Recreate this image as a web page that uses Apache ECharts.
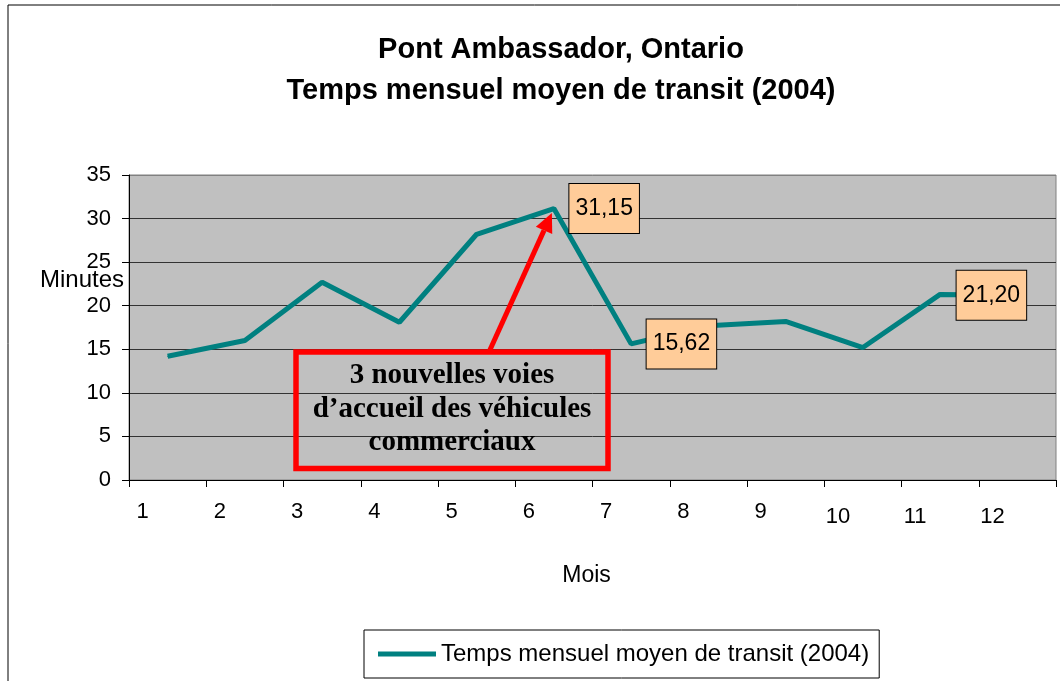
<!DOCTYPE html>
<html>
<head>
<meta charset="utf-8">
<script src="https://cdn.jsdelivr.net/npm/echarts@6/dist/echarts.min.js"></script>
<style>html,body{margin:0;padding:0;background:#fff;}#c{width:1060px;height:681px;}</style>
</head>
<body>
<div id="c"></div>
<script>
const months = ['1','2','3','4','5','6','7','8','9','10','11','12'];
const transitMinutes = [14.2, 16.0, 22.7, 18.1, 28.2, 31.15, 15.62, 17.7, 18.2, 15.2, 21.3, 21.20];
const labelledMonths = [5, 6, 11];
const yTicks = [0, 5, 10, 15, 20, 25, 30, 35];
const seriesName = 'Temps mensuel moyen de transit (2004)';
const titleLines = ['Pont Ambassador, Ontario', 'Temps mensuel moyen de transit (2004)'];
const noteLines = ['3 nouvelles voies', 'd’accueil des véhicules', 'commerciaux'];

const FONT = 'Arial, "Liberation Sans", sans-serif';
const chart = echarts.init(document.getElementById('c'));

const labelBase = {
  show: true,
  formatter: p => p.value.toFixed(2).replace('.', ','),
  backgroundColor: '#FFCC99',
  borderColor: '#000',
  borderWidth: 1,
  padding: [13, 6],
  fontSize: 23,
  fontFamily: FONT,
  color: '#000'
};
const seriesData = transitMinutes.map((v, i) => {
  if (!labelledMonths.includes(i)) return v;
  const lab = Object.assign({}, labelBase);
  if (i === 11) { lab.position = 'inside'; lab.offset = [-26, 0]; }
  else { lab.position = 'right'; lab.distance = 15; }
  return { value: v, label: lab };
});

chart.setOption({
  animation: false,
  backgroundColor: '#fff',
  title: {
    text: titleLines.join('\n'),
    left: 556, top: 24, textAlign: 'center',
    textStyle: { fontFamily: FONT, fontWeight: 'bold', fontSize: 29, lineHeight: 41, color: '#000' }
  },
  grid: {
    left: 129, right: 4, top: 175, bottom: 201,
    show: true, backgroundColor: '#C0C0C0', borderColor: '#808080', borderWidth: 1
  },
  legend: {
    data: [seriesName],
    left: 364, top: 630,
    borderColor: '#000', borderWidth: 1,
    padding: [12, 10, 12, 14],
    icon: 'rect', itemWidth: 58, itemHeight: 5, itemGap: 6,
    textStyle: { fontFamily: FONT, fontSize: 24, color: '#000' }
  },
  xAxis: {
    type: 'category',
    data: months,
    boundaryGap: true,
    name: 'Mois', nameLocation: 'middle', nameGap: 84,
    nameTextStyle: { fontFamily: FONT, fontSize: 23, color: '#000', padding: [0, 12, 0, 0] },
    axisLine: { lineStyle: { color: '#000', width: 1 } },
    axisTick: { show: true, length: 7, interval: 0, alignWithLabel: false, lineStyle: { color: '#000' } },
    axisLabel: {
      interval: 0,
      margin: 21, fontFamily: FONT, fontSize: 22, color: '#000',
      padding: [0, 50, 0, 0],
      formatter: v => (Number(v) >= 10 ? '{low|' + v + '}' : v),
      rich: { low: { padding: [5, 0, 0, 0], fontFamily: FONT, fontSize: 22, color: '#000' } }
    },
    splitLine: { show: false }
  },
  yAxis: {
    type: 'value',
    min: yTicks[0], max: yTicks[yTicks.length - 1], interval: yTicks[1] - yTicks[0],
    axisLine: { show: true, lineStyle: { color: '#000', width: 1 } },
    axisTick: { show: true, length: 7, lineStyle: { color: '#000' } },
    axisLabel: { margin: 18, fontFamily: FONT, fontSize: 22, color: '#000' },
    splitLine: { show: true, lineStyle: { color: ['#000','#333','#333','#333','#333','#333','#333','#808080'], width: 1 } }
  },
  series: [{
    name: seriesName,
    type: 'line',
    data: seriesData,
    symbol: 'circle', symbolSize: 1,
    itemStyle: { color: '#008080' },
    lineStyle: { color: '#008080', width: 5 },
    label: { show: false },
    z: 3
  }]
});

// Annotations (arrow tip anchored to the peak via the axis scale)
const peakIdx = transitMinutes.indexOf(Math.max(...transitMinutes));
const peak = chart.convertToPixel({ gridIndex: 0 }, [peakIdx, transitMinutes[peakIdx]]);
const tip = [peak[0] - 2, peak[1] + 4.5];
const tail = [489, 352];
const dx = tip[0] - tail[0], dy = tip[1] - tail[1];
const len = Math.sqrt(dx * dx + dy * dy);
const ux = dx / len, uy = dy / len;
const headL = 19, headW = 9;
const bc = [tip[0] - ux * headL, tip[1] - uy * headL];
const px = -uy, py = ux;

chart.setOption({
  graphic: [
    { type: 'rect', z: 0, silent: true, shape: { x: 8, y: 5, width: 1200, height: 800 },
      style: { fill: 'none', stroke: '#000', lineWidth: 1 } },
    { type: 'text', left: 40, top: 268, z: 10,
      style: { text: 'Minutes', fontFamily: FONT, fontSize: 24, fill: '#000' } },
    { type: 'line', z: 20, shape: { x1: tail[0], y1: tail[1], x2: bc[0], y2: bc[1] },
      style: { stroke: '#FF0000', lineWidth: 5 } },
    { type: 'polygon', z: 20,
      shape: { points: [tip, [bc[0] + px * headW, bc[1] + py * headW], [bc[0] - px * headW, bc[1] - py * headW]] },
      style: { fill: '#FF0000' } },
    { type: 'rect', z: 20, shape: { x: 296, y: 352, width: 312, height: 116.5 },
      style: { fill: 'none', stroke: '#FF0000', lineWidth: 5.5 } },
    { type: 'text', z: 21, x: 452, y: 359,
      style: { text: noteLines.join('\n'), align: 'center', verticalAlign: 'top',
        fontFamily: '"Liberation Serif", "Times New Roman", serif', fontWeight: 'bold',
        fontSize: 29, lineHeight: 33.5, fill: '#000' } }
  ]
});
</script>
</body>
</html>
